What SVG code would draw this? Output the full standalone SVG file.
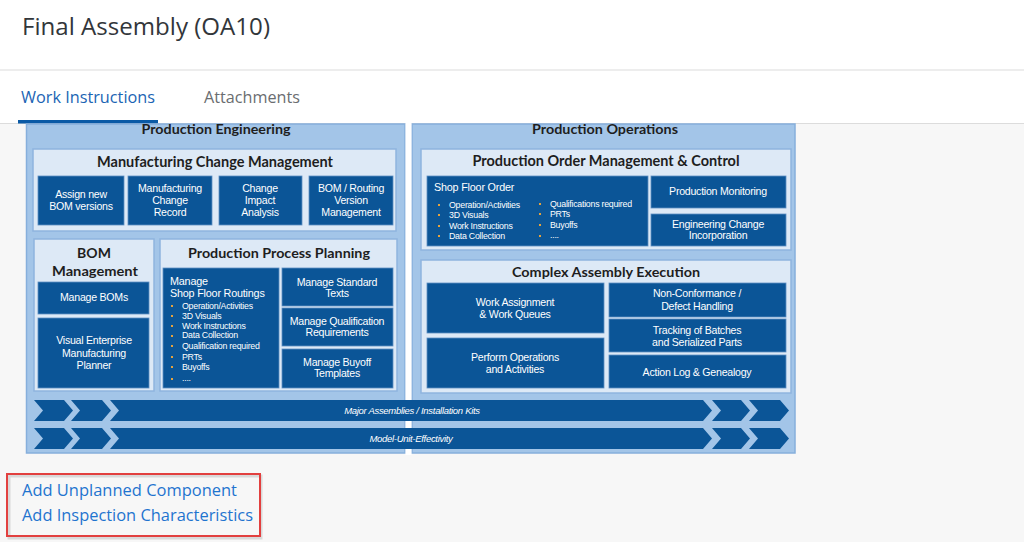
<svg xmlns="http://www.w3.org/2000/svg" width="1024" height="542" viewBox="0 0 1024 542">
<defs>
<style>
.panel{fill:#a3c5e8;stroke:#86afdc;stroke-width:1.5}
.sub{fill:#dde9f6;stroke:#8fb4de;stroke-width:1.5}
.box{fill:#0b5597;stroke:#5f8fc4;stroke-width:0.8}
.band{fill:#0b5597}
.h{font-family:Lato,"Liberation Sans",sans-serif;font-weight:bold;fill:#1e1e1e;text-anchor:middle}
.t{font-family:"Liberation Sans",Arial,sans-serif;font-size:10.6px;fill:#ffffff;text-anchor:middle;letter-spacing:-0.25px}
.tl{font-family:"Liberation Sans",Arial,sans-serif;font-size:10.8px;fill:#ffffff;letter-spacing:-0.2px}
.b{font-family:"Liberation Sans",Arial,sans-serif;font-size:8.8px;fill:#ffffff;letter-spacing:-0.25px}
.dot{fill:#e6a23c}
.bt{font-family:"Liberation Sans",Arial,sans-serif;font-size:9.5px;font-style:italic;fill:#ffffff;text-anchor:middle;letter-spacing:-0.3px}
.ui{font-family:"Open Sans","Noto Sans","Liberation Sans",sans-serif}
</style>
</defs>
<rect x="0" y="0" width="1024" height="542" fill="#f7f7f7"/>
<g id="header">
<rect x="0" y="0" width="1024" height="123" fill="#ffffff"/>
<line x1="0" y1="70" x2="1024" y2="70" stroke="#dcdcdc" stroke-width="1.2"/>
<line x1="0" y1="123.5" x2="1024" y2="123.5" stroke="#dcdcdc" stroke-width="1"/>
<text class="ui" x="22" y="35" font-size="23" fill="#32363a" textLength="248" lengthAdjust="spacingAndGlyphs">Final Assembly (OA10)</text>
<text class="ui" x="21" y="103" font-size="15.5" fill="#1b64b4" textLength="134" lengthAdjust="spacingAndGlyphs">Work Instructions</text>
<text class="ui" x="204" y="103" font-size="15.5" fill="#6a6d70" textLength="96" lengthAdjust="spacingAndGlyphs">Attachments</text>
<rect x="18" y="120" width="140" height="3.5" fill="#0a5aa6"/>
</g>
<g id="panels">
<rect class="panel" x="26.5" y="124" width="378.5" height="329"/>
<rect class="panel" x="412" y="124" width="383" height="329"/>
<rect x="405.5" y="123" width="6" height="332" fill="#ffffff"/>
<text class="h" x="216" y="134" font-size="13" textLength="149" lengthAdjust="spacingAndGlyphs">Production Engineering</text>
<text class="h" x="605" y="134" font-size="13" textLength="146" lengthAdjust="spacingAndGlyphs">Production Operations</text>
</g>
<g id="mcm">
<rect class="sub" x="33" y="149" width="363" height="82"/>
<text class="h" x="215" y="167" font-size="15" textLength="236" lengthAdjust="spacingAndGlyphs">Manufacturing Change Management</text>
<rect class="box" x="38" y="176" width="86" height="49"/>
<text class="t" x="81" y="198">Assign new</text>
<text class="t" x="81" y="210">BOM versions</text>
<rect class="box" x="128" y="176" width="84" height="49"/>
<text class="t" x="170" y="192">Manufacturing</text>
<text class="t" x="170" y="204">Change</text>
<text class="t" x="170" y="216">Record</text>
<rect class="box" x="219" y="176" width="83" height="49"/>
<text class="t" x="260" y="192">Change</text>
<text class="t" x="260" y="204">Impact</text>
<text class="t" x="260" y="216">Analysis</text>
<rect class="box" x="309" y="176" width="84" height="49"/>
<text class="t" x="351" y="192">BOM / Routing</text>
<text class="t" x="351" y="204">Version</text>
<text class="t" x="351" y="216">Management</text>
</g>
<g id="bom">
<rect class="sub" x="34" y="239" width="120" height="152"/>
<text class="h" x="94" y="258" font-size="14">BOM</text>
<text class="h" x="95" y="276" font-size="14" textLength="86" lengthAdjust="spacingAndGlyphs">Management</text>
<rect class="box" x="38" y="282" width="111" height="32"/>
<text class="t" x="94" y="301">Manage BOMs</text>
<rect class="box" x="38" y="318" width="111" height="70"/>
<text class="t" x="94" y="344">Visual Enterprise</text>
<text class="t" x="94" y="357">Manufacturing</text>
<text class="t" x="94" y="369">Planner</text>
</g>
<g id="ppp">
<rect class="sub" x="160" y="239" width="237" height="152"/>
<text class="h" x="279" y="258" font-size="14" textLength="182" lengthAdjust="spacingAndGlyphs">Production Process Planning</text>
<rect class="box" x="163" y="268" width="116" height="120"/>
<text class="tl" x="170" y="285">Manage</text>
<text class="tl" x="170" y="297">Shop Floor Routings</text>
<g class="dot">
<rect x="171" y="305" width="2" height="2"/><rect x="171" y="315" width="2" height="2"/><rect x="171" y="325" width="2" height="2"/><rect x="171" y="335" width="2" height="2"/><rect x="171" y="345" width="2" height="2"/><rect x="171" y="356" width="2" height="2"/><rect x="171" y="366" width="2" height="2"/><rect x="171" y="378" width="2" height="2"/>
</g>
<text class="b" x="182" y="309">Operation/Activities</text>
<text class="b" x="182" y="319">3D Visuals</text>
<text class="b" x="182" y="329">Work Instructions</text>
<text class="b" x="182" y="338">Data Collection</text>
<text class="b" x="182" y="349">Qualification required</text>
<text class="b" x="182" y="360">PRTs</text>
<text class="b" x="182" y="370">Buyoffs</text>
<text class="b" x="182" y="381">....</text>
<rect class="box" x="282" y="268" width="111" height="38"/>
<text class="t" x="337" y="286">Manage Standard</text>
<text class="t" x="337" y="297">Texts</text>
<rect class="box" x="282" y="308" width="111" height="38"/>
<text class="t" x="337" y="325">Manage Qualification</text>
<text class="t" x="337" y="336">Requirements</text>
<rect class="box" x="282" y="349" width="111" height="39"/>
<text class="t" x="337" y="366">Manage Buyoff</text>
<text class="t" x="337" y="377">Templates</text>
</g>
<g id="pomc">
<rect class="sub" x="421" y="149" width="370" height="101"/>
<text class="h" x="606" y="166" font-size="15" textLength="267" lengthAdjust="spacingAndGlyphs">Production Order Management &amp; Control</text>
<rect class="box" x="427" y="176" width="221" height="70"/>
<text class="tl" x="434" y="191">Shop Floor Order</text>
<g class="dot">
<rect x="438" y="204" width="2" height="2"/><rect x="438" y="214" width="2" height="2"/><rect x="438" y="225" width="2" height="2"/><rect x="438" y="235" width="2" height="2"/>
<rect x="539" y="203" width="2" height="2"/><rect x="539" y="213" width="2" height="2"/><rect x="539" y="224" width="2" height="2"/><rect x="539" y="235" width="2" height="2"/>
</g>
<text class="b" x="449" y="208">Operation/Activities</text>
<text class="b" x="449" y="218">3D Visuals</text>
<text class="b" x="449" y="229">Work Instructions</text>
<text class="b" x="449" y="239">Data Collection</text>
<text class="b" x="550" y="207">Qualifications required</text>
<text class="b" x="550" y="217">PRTs</text>
<text class="b" x="550" y="228">Buyoffs</text>
<text class="b" x="550" y="238">....</text>
<rect class="box" x="651" y="176" width="135" height="32"/>
<text class="t" x="718" y="195">Production Monitoring</text>
<rect class="box" x="651" y="214" width="135" height="32"/>
<text class="t" x="718" y="228">Engineering Change</text>
<text class="t" x="718" y="239">Incorporation</text>
</g>
<g id="cae">
<rect class="sub" x="421" y="260" width="370" height="133"/>
<text class="h" x="606" y="277" font-size="14" textLength="188" lengthAdjust="spacingAndGlyphs">Complex Assembly Execution</text>
<rect class="box" x="427" y="283" width="177" height="50"/>
<text class="t" x="515" y="306">Work Assignment</text>
<text class="t" x="515" y="318">&amp; Work Queues</text>
<rect class="box" x="427" y="338" width="177" height="50"/>
<text class="t" x="515" y="361">Perform Operations</text>
<text class="t" x="515" y="373">and Activities</text>
<rect class="box" x="609" y="283" width="177" height="34"/>
<text class="t" x="697" y="297">Non-Conformance /</text>
<text class="t" x="697" y="310">Defect Handling</text>
<rect class="box" x="609" y="319" width="177" height="33"/>
<text class="t" x="697" y="334">Tracking of Batches</text>
<text class="t" x="697" y="346">and Serialized Parts</text>
<rect class="box" x="609" y="355" width="177" height="33"/>
<text class="t" x="697" y="376">Action Log &amp; Genealogy</text>
</g>
<g id="band-major">
<polygon class="band" points="34,400 64,400 73,410.5 64,421 34,421 43,410.5"/>
<polygon class="band" points="71,400 102,400 111,410.5 102,421 71,421 80,410.5"/>
<polygon class="band" points="110,400 703,400 712,410.5 703,421 110,421 119,410.5"/>
<polygon class="band" points="712,400 741,400 750,410.5 741,421 712,421 721,410.5"/>
<polygon class="band" points="749,400 780,400 789,410.5 780,421 749,421 758,410.5"/>
<text class="bt" x="412" y="414">Major Assemblies / Installation Kits</text>
</g>
<g id="band-model">
<polygon class="band" points="34,428 64,428 73,438.5 64,449 34,449 43,438.5"/>
<polygon class="band" points="71,428 102,428 111,438.5 102,449 71,449 80,438.5"/>
<polygon class="band" points="110,428 703,428 712,438.5 703,449 110,449 119,438.5"/>
<polygon class="band" points="712,428 741,428 750,438.5 741,449 712,449 721,438.5"/>
<polygon class="band" points="749,428 780,428 789,438.5 780,449 749,449 758,438.5"/>
<text class="bt" x="411" y="442">Model-Unit-Effectivity</text>
</g>
<g id="connectors"></g>
<g id="links">
<rect x="9" y="476" width="252" height="62" fill="none" stroke="#000000" stroke-opacity="0.12" stroke-width="3"/>
<rect x="7" y="474" width="253" height="62" fill="none" stroke="#e2403f" stroke-width="2"/>
<text class="ui" x="22" y="496" font-size="15.5" fill="#1f74cf" textLength="215" lengthAdjust="spacingAndGlyphs">Add Unplanned Component</text>
<text class="ui" x="22" y="521" font-size="15.5" fill="#1f74cf" textLength="231" lengthAdjust="spacingAndGlyphs">Add Inspection Characteristics</text>
</g>
</svg>
